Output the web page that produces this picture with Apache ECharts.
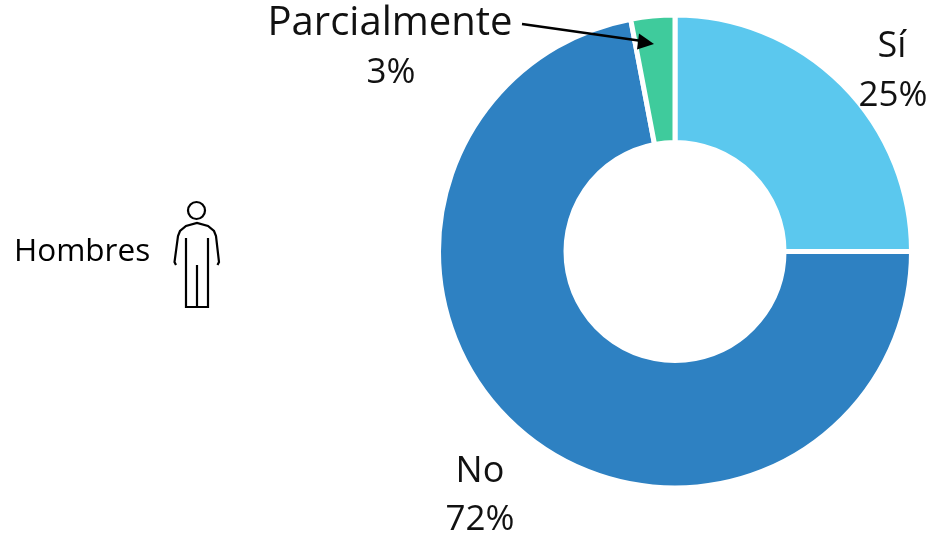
<!DOCTYPE html>
<html><head><meta charset="utf-8">
<style>html,body{margin:0;padding:0;background:#fff}#c{width:936px;height:543px}</style>
<script src="https://cdn.jsdelivr.net/npm/echarts@6/dist/echarts.min.js"></script>
</head><body><div id="c"></div>
<script>
const categories = ["Sí","No","Parcialmente"];
const values = [25,72,3];
const colors = ["#5BC8EE","#2E81C2","#3FCB9C"];
const font = "'Open Sans','Noto Sans',sans-serif";
const chart = echarts.init(document.getElementById('c'),null,{renderer:'canvas'});
const nameLabels = [[892,47,36],[480,472,36],[390,24,40]];
const valueLabels = [[893,96,35],[480,520,35],[391,73,35]];
const txt=(x,y,s,size)=>({type:'text',x,y,z:100,style:{text:s,font:size+"px "+font,fill:'#111',align:'center',verticalAlign:'middle'}});
const ink={fill:'none',stroke:'#000',lineWidth:2.2};
chart.setOption({
 animation:false,
 series:[{type:'pie',center:[675,251.5],radius:[109,236.5],startAngle:90,clockwise:true,
  data:categories.map((n,i)=>({name:n,value:values[i],itemStyle:{color:colors[i]}})),
  itemStyle:{borderColor:'#fff',borderWidth:5},
  label:{show:false},labelLine:{show:false},silent:true}],
 graphic:[
  ...categories.map((n,i)=>txt(nameLabels[i][0],nameLabels[i][1],n,nameLabels[i][2])),
  ...categories.map((n,i)=>txt(valueLabels[i][0],valueLabels[i][1],values[i]+"%",valueLabels[i][2])),
  {type:'text',x:14,y:252,z:100,style:{text:'Hombres',font:"31.5px "+font,fill:'#000',align:'left',verticalAlign:'middle'}},
  {type:'line',z:100,shape:{x1:522,y1:24,x2:642,y2:41},style:{stroke:'#000',lineWidth:2.4}},
  {type:'polygon',z:100,shape:{points:[[654,44],[637,49.5],[639,33.5]]},style:{fill:'#000'}},
  {type:'circle',z:100,shape:{cx:196.5,cy:210.5,r:8.5},style:ink},
  {type:'polyline',z:100,shape:{points:[[176,265],[174.5,262],[178,236],[180,231],[186,226],[197,223],[208,226],[214,231],[216,236],[219,262],[217.5,265]]},style:ink},
  {type:'polyline',z:100,shape:{points:[[186,238],[186,307],[208,307],[208,238]]},style:ink},
  {type:'line',z:100,shape:{x1:197,y1:265,x2:197,y2:307},style:ink}
 ]
});
</script></body></html>
